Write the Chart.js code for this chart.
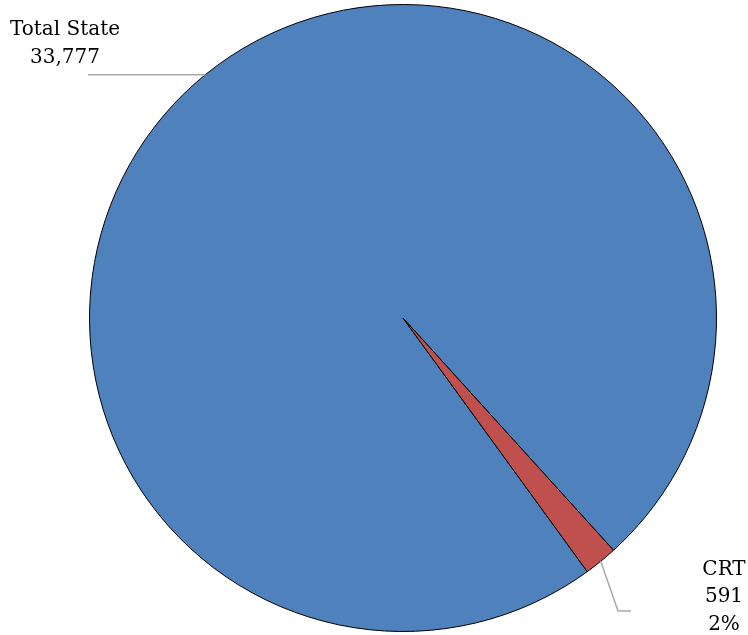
<!DOCTYPE html>
<html>
<head>
<meta charset="utf-8">
<script src="https://cdn.jsdelivr.net/npm/chart.js@4.4.1/dist/chart.umd.min.js"></script>
<style>
  html, body { margin: 0; padding: 0; background: #fff; }
  #wrap { width: 748px; height: 635px; }
</style>
</head>
<body>
<div id="wrap"><canvas id="pie-chart"></canvas></div>
<script>
const categories = ['Total State', 'CRT']
const counts = [33777, 591]
const colors = ['#4F81BD', '#C0504D']

// where each callout sits: text centre, baselines, and the path of the leader line
const callouts = [
  { x: 65, baselines: [35, 63], path: (p) => [p, { x: 88, y: p.y }], showPct: false },
  { x: 724, baselines: [575, 602, 630], path: (p) => [p, { x: 618, y: 611 }, { x: 631, y: 611 }], showPct: true }
]

const total = counts.reduce((a, b) => a + b, 0)

const calloutPlugin = {
  id: 'callouts',
  afterDatasetsDraw(chart) {
    const ctx = chart.ctx
    const meta = chart.getDatasetMeta(0)
    meta.data.forEach((arc, i) => {
      const c = callouts[i]
      const mid = (arc.startAngle + arc.endAngle) / 2
      const edge = { x: arc.x + Math.cos(mid) * arc.outerRadius, y: arc.y + Math.sin(mid) * arc.outerRadius }
      const pts = c.path(edge)
      ctx.save()
      ctx.strokeStyle = '#A9A9A9'
      ctx.lineWidth = 1.5
      ctx.beginPath()
      ctx.moveTo(pts[0].x, pts[0].y)
      pts.slice(1).forEach(pt => ctx.lineTo(pt.x, pt.y))
      ctx.stroke()

      const lines = [categories[i], counts[i].toLocaleString('en-US')]
      if (c.showPct) lines.push(Math.round(counts[i] / total * 100) + '%')
      ctx.fillStyle = '#000'
      ctx.font = '20px "DejaVu Serif"'
      ctx.textAlign = 'center'
      ctx.textBaseline = 'alphabetic'
      lines.forEach((t, k) => ctx.fillText(t, c.x, c.baselines[k]))
      ctx.restore()
    })
  }
}

new Chart(document.querySelector('#pie-chart'), {
  type: 'pie',
  data: {
    labels: categories,
    datasets: [{
      data: counts,
      backgroundColor: colors,
      borderColor: '#000',
      borderWidth: 1
    }]
  },
  options: {
    responsive: true,
    maintainAspectRatio: false,
    animation: false,
    rotation: 144,
    layout: { padding: { left: 89, right: 31, top: 4, bottom: 3 } },
    plugins: {
      legend: { display: false },
      tooltip: { enabled: false }
    }
  },
  plugins: [calloutPlugin]
})
</script>
</body>
</html>
